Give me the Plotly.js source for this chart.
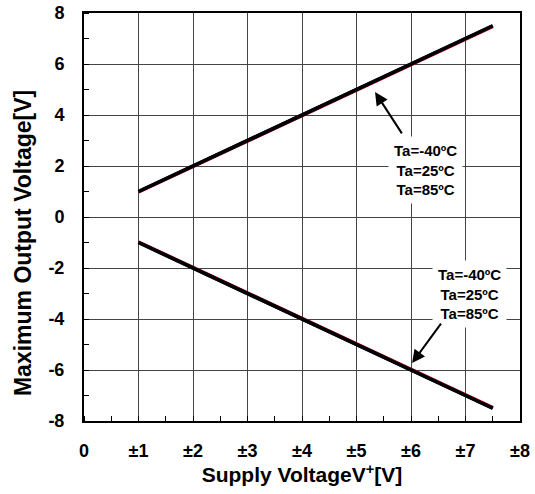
<!DOCTYPE html>
<html><head><meta charset="utf-8">
<script src="https://cdn.plot.ly/plotly-3.0.1.min.js"></script>
<style>html,body{margin:0;padding:0;background:#fff}</style>
</head><body>
<div id="chart" style="width:535px;height:494px"></div>
<script>
// Supply voltage (±V)
const supplyV = [1, 7.5];
// Maximum output voltage, positive swing
const posM40 = [1.0, 7.5];
const pos25 = [1.0, 7.5];
const pos85 = [0.98, 7.47];
// Maximum output voltage, negative swing
const negM40 = [-1.0, -7.5];
const neg25 = [-1.0, -7.5];
const neg85 = [-0.98, -7.47];
const xTickVals = [0, 1, 2, 3, 4, 5, 6, 7, 8];
const xTickText = ['0', '±1', '±2', '±3', '±4', '±5', '±6', '±7', '±8'];
const yTickVals = [-8, -6, -4, -2, 0, 2, 4, 6, 8];
const yTickText = ['-8', '-6', '-4', '-2', '0', '2', '4', '6', '8'];
const labels = ['Ta=-40ºC', 'Ta=25ºC', 'Ta=85ºC'];
const xTitle = 'Supply VoltageV<sup>+</sup>[V]';
const yTitle = 'Maximum Output Voltage[V]';

const F = 'Liberation Sans, Arial, sans-serif';
function tr(x, y, c, w) {
  return {x: x, y: y, mode: 'lines', line: {color: c, width: w}, showlegend: false, hoverinfo: 'skip'};
}
const data = [
  tr(supplyV, pos85, '#cc0000', 3.5), tr(supplyV, neg85, '#cc0000', 3.5),
  tr(supplyV, posM40, '#1a1a80', 3.5), tr(supplyV, negM40, '#1a1a80', 3.5),
  tr(supplyV, pos25, '#000000', 3.5), tr(supplyV, neg25, '#000000', 3.5)
];
const txt = labels.join('<br>');
const layout = {
  width: 535, height: 494,
  margin: {l: 84, r: 15, t: 13, b: 73},
  paper_bgcolor: '#fff', plot_bgcolor: '#fff',
  font: {family: F, size: 14, color: '#000'},
  xaxis: {
    range: [0, 8], tickvals: xTickVals, ticktext: xTickText,
    showgrid: true, gridcolor: '#444', gridwidth: 1,
    zeroline: false, showline: true, linecolor: '#000', linewidth: 2, mirror: true,
    ticks: '', ticklabelstandoff: 12,
    tickfont: {family: F, size: 18, weight: 'bold'},
    minor: {dtick: 0.5, tick0: 0, ticks: 'inside', ticklen: 5, tickcolor: '#000', tickwidth: 1, showgrid: false},
    title: {text: xTitle, font: {family: F, size: 21, weight: 'bold'}, standoff: 4}
  },
  yaxis: {
    range: [-8, 8], tickvals: yTickVals, ticktext: yTickText,
    showgrid: true, gridcolor: '#444', gridwidth: 1,
    zeroline: false, showline: true, linecolor: '#000', linewidth: 2, mirror: true,
    ticks: '', ticklabelstandoff: 14,
    tickfont: {family: F, size: 18, weight: 'bold'},
    minor: {dtick: 1, tick0: 0, ticks: 'inside', ticklen: 5, tickcolor: '#000', tickwidth: 1, showgrid: false}
  },
  annotations: [
    {x: -0.14, y: 0.436, xref: 'paper', yref: 'paper', xanchor: 'center', yanchor: 'middle',
     text: yTitle, textangle: -90, showarrow: false,
     font: {family: F, size: 23, weight: 'bold'}},
    {x: 6.26, y: 1.84, xref: 'x', yref: 'y', text: txt, showarrow: false,
     font: {family: F, size: 15, weight: 'bold'}, bgcolor: '#fff', borderpad: 5, align: 'center'},
    {x: 7.08, y: -3.02, xref: 'x', yref: 'y', text: txt, showarrow: false,
     font: {family: F, size: 15, weight: 'bold'}, bgcolor: '#fff', borderpad: 5, align: 'center'},
    {x: 5.34, y: 4.9, ax: 5.85, ay: 3.22, xref: 'x', yref: 'y', axref: 'x', ayref: 'y',
     text: '', showarrow: true, arrowhead: 2, arrowsize: 1.3, arrowwidth: 2, arrowcolor: '#000'},
    {x: 6.02, y: -5.73, ax: 6.57, ay: -4.12, xref: 'x', yref: 'y', axref: 'x', ayref: 'y',
     text: '', showarrow: true, arrowhead: 2, arrowsize: 1.3, arrowwidth: 2, arrowcolor: '#000'}
  ]
};
Plotly.newPlot('chart', data, layout, {staticPlot: true, displayModeBar: false});
</script>
</body></html>
